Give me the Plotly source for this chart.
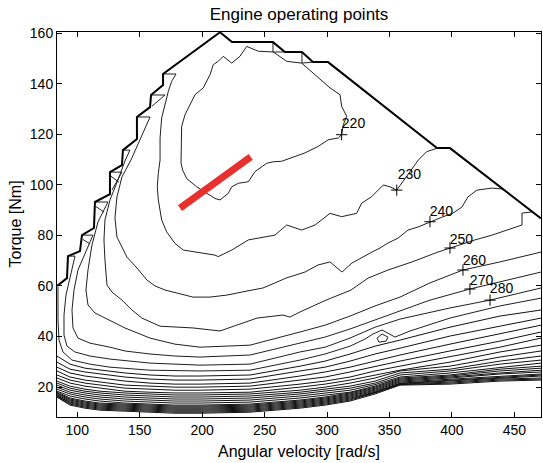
import plotly.graph_objects as go

# ---------------- data (speed in rad/s, torque in Nm) ----------------
# maximum torque boundary (stair-stepped grid edge)
bound_speed = [83.8, 91.8, 92.6, 102.2, 103.8, 113.4, 114.2, 126.2, 126.2, 135.8, 136.6, 147.8, 147.8,
               158.3, 159.1, 168.7, 168.7, 214.3, 223.9, 256.7, 266.3, 279.9, 288.7, 300.8, 388.0,
               398.4, 471.3]
bound_torque = [60.0, 63.1, 71.8, 73.8, 80.1, 82.9, 93.2, 96.3, 105.0, 107.8, 113.7, 118.1, 126.8,
                130.7, 135.5, 139.4, 143.8, 160.3, 156.4, 156.4, 152.5, 152.5, 148.5, 148.5, 114.5,
                114.5, 86.7]

# small edge artefacts near the boundary steps
edge_segments = [
    ([168.7, 179.1], [143.8, 143.8]),
    ([159.1, 170.3, 159.9], [135.5, 135.5, 131.1]),
    ([147.8, 158.3], [126.8, 126.8]),
    ([136.6, 142.2], [113.7, 113.7]),
    ([126.2, 135.8, 127.8], [105.0, 105.0, 97.9]),
    ([127.0, 133.4], [103.4, 101.0]),
    ([114.2, 124.6], [93.2, 93.2]),
    ([115.0, 121.4], [91.4, 89.2]),
    ([103.8, 112.6], [80.1, 80.1]),
    ([104.6, 110.2], [78.4, 76.6]),
    ([92.6, 98.2], [71.8, 71.8]),
    ([256.7, 256.7, 266.3], [156.4, 152.5, 152.5]),
    ([279.9, 279.9, 288.7], [152.5, 148.1, 148.5]),
]

# labelled contour levels (g/kWh)
c220_speed = [257.0, 267.7, 279.7, 290.4, 302.4, 310.4, 311.7, 315.7, 313.0, 311.7, 309.0, 301.0, 293.0,
              282.3, 271.7, 263.7, 257.0, 251.7, 242.3, 237.0, 229.0, 223.7, 220.9, 214.3, 210.3, 203.6,
              195.6, 187.6, 184.4, 183.1, 183.1, 183.6, 186.3, 190.3, 194.3, 200.9, 206.3, 208.9, 212.9,
              216.9, 223.7, 230.3, 235.7, 245.0, 257.0]
c220_torque = [152.5, 148.8, 148.1, 143.5, 138.3, 135.6, 131.0, 127.1, 123.7, 119.8, 118.5, 117.8, 115.2,
               112.6, 110.6, 109.3, 109.1, 108.5, 105.2, 101.2, 100.6, 99.2, 96.6, 94.0, 94.6, 96.6,
               99.2, 102.5, 105.8, 108.6, 118.5, 123.1, 127.7, 131.6, 135.6, 138.3, 143.5, 147.5, 148.8,
               150.8, 148.1, 150.8, 154.7, 152.8, 152.5]

c230_speed = [179.1, 175.6, 172.9, 170.3, 167.6, 166.3, 166.3, 164.9, 164.1, 164.9, 167.6, 171.6, 178.3,
              184.9, 200.9, 210.3, 212.9, 223.7, 237.0, 258.3, 267.7, 279.7, 290.4, 302.4, 311.7, 323.7,
              327.7, 335.7, 345.0, 350.4, 355.8, 359.8, 367.8, 373.1, 379.8, 387.8]
c230_torque = [143.8, 140.9, 136.9, 131.6, 126.4, 118.5, 109.8, 104.5, 99.2, 94.0, 86.1, 81.4, 76.8,
               74.2, 72.9, 72.2, 71.6, 74.2, 78.2, 80.1, 84.1, 82.1, 84.1, 88.7, 87.4, 88.7,
               92.7, 95.3, 99.9, 99.2, 97.9, 100.6, 105.8, 109.8, 113.1, 114.4]

c240_speed = [158.3, 150.2, 143.0, 135.8, 131.8, 130.2, 131.8, 135.8, 139.8, 147.8, 155.9, 162.3, 170.3,
              179.9, 192.7, 206.3, 219.9, 235.9, 248.7, 258.3, 267.1, 282.3, 292.8, 302.4, 312.0, 320.0,
              328.0, 336.0, 342.4, 348.8, 356.8, 364.8, 372.8, 382.4, 392.0, 400.8, 408.0, 412.8, 420.0,
              432.1, 440.9]
c240_torque = [126.8, 117.7, 109.8, 103.1, 95.2, 86.9, 79.3, 75.4, 71.4, 67.1, 62.3, 60.0, 58.4,
               57.2, 55.6, 55.6, 56.4, 58.0, 59.2, 61.2, 63.1, 65.5, 68.3, 69.5, 65.5, 69.1,
               71.4, 73.4, 75.0, 77.0, 78.9, 82.1, 83.3, 85.3, 87.2, 88.8, 91.2, 95.2, 97.9,
               98.7, 98.3]

c250_speed = [142.2, 138.2, 132.6, 126.2, 122.2, 121.4, 122.2, 123.8, 127.8, 135.8, 143.8, 151.8, 166.3,
              192.7, 214.3, 227.9, 243.9, 264.7, 270.3, 278.3, 299.2, 319.2, 332.8, 348.8, 368.0, 388.8,
              398.4, 418.4, 432.1, 444.9, 456.1, 456.1, 464.1]
c250_torque = [113.7, 109.4, 101.9, 94.0, 86.1, 78.2, 70.2, 60.4, 57.6, 54.4, 50.5, 47.3, 44.1,
               43.4, 42.2, 44.5, 47.3, 48.5, 47.7, 49.7, 54.4, 58.4, 63.1, 66.3, 69.5, 73.4,
               75.0, 78.2, 80.1, 82.1, 84.1, 88.8, 89.3]

c260_speed = [124.6, 116.6, 111.8, 108.6, 107.0, 108.6, 114.2, 126.2, 138.2, 158.3, 178.3, 198.3, 238.3,
              278.3, 298.4, 318.4, 338.4, 358.4, 382.4, 408.8, 438.4, 471.3]
c260_torque = [93.2, 85.3, 76.2, 66.3, 58.4, 52.5, 49.3, 46.5, 43.4, 39.4, 37.0, 35.8, 36.6,
               41.8, 44.5, 48.1, 52.1, 55.6, 61.2, 66.3, 69.5, 73.4]

c270_speed = [112.6, 106.2, 100.6, 97.4, 95.8, 96.6, 100.6, 110.2, 126.2, 138.2, 158.3, 178.3, 198.3,
              238.3, 278.3, 298.4, 318.4, 338.4, 358.4, 382.4, 414.4, 438.4, 471.3]
c270_torque = [80.1, 73.0, 66.3, 58.4, 50.5, 43.4, 39.4, 37.4, 35.8, 34.3, 33.1, 32.3, 31.9,
               32.7, 37.4, 39.8, 43.0, 46.5, 50.1, 54.4, 58.8, 61.5, 65.5]

c280_speed = [98.2, 94.2, 91.0, 89.4, 89.4, 91.8, 98.2, 110.2, 126.2, 158.3, 198.3, 238.3, 278.3,
              298.4, 318.4, 338.4, 358.4, 398.4, 430.5, 471.3]
c280_torque = [71.8, 63.5, 56.4, 48.5, 40.6, 36.2, 33.9, 32.3, 31.1, 29.5, 28.7, 29.1, 33.9,
               35.8, 39.4, 43.7, 46.9, 51.3, 54.4, 59.2]

c290_speed = [84.6, 84.6, 85.4, 88.6, 95.8, 110.2, 126.2, 158.3, 198.3, 238.3, 278.3, 298.4, 318.4,
              330.4, 336.8, 344.0, 354.4, 366.4, 398.4, 438.4, 471.3]
c290_torque = [59.6, 46.5, 38.6, 33.9, 30.7, 29.1, 27.9, 26.7, 26.4, 26.7, 30.7, 33.1, 36.2,
               39.0, 41.0, 42.6, 39.8, 42.2, 47.3, 52.1, 55.2]

islet_speed = [340.0, 344.0, 348.8, 347.2, 341.6, 340.0]
islet_torque = [39.4, 41.0, 39.8, 38.2, 37.8, 39.4]

# unlabelled low-load contour levels, read at common speed stations
station_speed = [83.8, 94.2, 106.2, 118.2, 138.2, 158.3, 178.3, 198.3, 238.3, 278.3, 298.4, 318.4,
                 338.4, 358.4, 398.4, 438.4, 471.3]
t300 = [32.3, 29.1, 27.5, 26.7, 25.6, 24.8, 24.4, 24.4, 24.8, 28.3, 30.3, 33.1, 36.2, 38.6, 43.7, 48.1, 50.5]
t310 = [29.9, 27.1, 26.0, 25.2, 24.0, 23.2, 22.8, 22.8, 23.2, 26.4, 27.9, 30.3, 33.1, 35.4, 40.2, 44.1, 47.3]
t320 = [27.9, 25.6, 24.4, 23.6, 22.4, 21.6, 21.2, 21.2, 21.6, 24.4, 26.0, 27.9, 30.3, 32.7, 37.0, 41.0, 44.5]
t330 = [26.4, 24.0, 22.8, 22.0, 20.8, 20.4, 20.0, 20.0, 20.4, 22.8, 24.0, 26.0, 28.3, 30.3, 34.3, 38.2, 41.8]
t340 = [24.8, 22.8, 21.6, 20.8, 19.6, 19.2, 18.8, 18.8, 19.2, 21.2, 22.4, 24.0, 26.4, 28.3, 31.9, 35.8, 39.4]
t350 = [23.6, 21.6, 20.4, 19.6, 18.4, 18.0, 17.7, 17.7, 18.0, 20.0, 21.2, 22.8, 24.8, 26.7, 29.9, 33.9, 36.6]
t360 = [22.4, 20.4, 19.2, 18.4, 17.7, 17.3, 16.9, 16.9, 17.3, 18.8, 20.0, 21.6, 23.6, 26.4, 28.3, 31.9, 34.3]
t370 = [21.6, 19.6, 18.4, 17.7, 16.9, 16.5, 16.1, 16.1, 16.5, 18.0, 19.2, 20.4, 22.4, 25.6, 27.1, 30.3, 32.3]
t380 = [20.8, 18.8, 17.7, 16.9, 16.1, 15.7, 15.3, 15.3, 15.7, 17.3, 18.4, 19.6, 21.6, 24.8, 26.4, 29.1, 30.7]
t390 = [20.0, 18.0, 16.9, 16.1, 15.3, 14.9, 14.5, 14.5, 14.9, 16.5, 17.7, 18.8, 21.0, 24.0, 25.6, 27.9, 29.5]
t400 = [19.2, 17.3, 16.1, 15.3, 14.5, 14.1, 13.7, 13.7, 14.1, 15.7, 16.9, 18.0, 20.4, 23.6, 24.8, 27.1, 28.3]
t410 = [18.4, 16.5, 15.3, 14.5, 13.7, 13.3, 12.9, 12.9, 13.3, 14.9, 16.1, 17.7, 20.0, 23.2, 24.4, 26.4, 27.5]
t420 = [18.0, 15.7, 14.5, 13.7, 13.3, 12.9, 12.5, 12.5, 12.9, 14.5, 15.7, 17.3, 19.6, 22.8, 24.0, 25.6, 26.7]
t430 = [17.7, 15.3, 14.1, 13.3, 12.9, 12.5, 12.1, 12.1, 12.5, 14.1, 15.3, 16.9, 19.2, 22.4, 23.6, 25.2, 26.0]
t440 = [17.3, 14.9, 13.7, 12.9, 12.5, 12.1, 11.7, 11.7, 12.1, 13.7, 14.9, 16.5, 18.8, 22.0, 23.2, 24.4, 25.2]
t450 = [16.9, 14.5, 13.3, 12.5, 12.1, 11.7, 11.3, 11.3, 11.7, 13.3, 14.5, 16.1, 18.4, 21.6, 22.8, 24.0, 24.8]
t460 = [16.5, 14.1, 12.9, 12.1, 11.7, 11.3, 10.9, 10.9, 11.3, 12.9, 14.1, 15.7, 18.0, 21.4, 22.4, 23.6, 24.4]
t470 = [16.5, 13.7, 12.5, 11.7, 11.3, 10.9, 10.5, 10.5, 10.9, 12.5, 13.7, 15.3, 17.9, 21.2, 22.0, 23.2, 23.6]
t480 = [16.1, 13.3, 12.1, 11.3, 10.9, 10.5, 10.1, 10.1, 10.5, 12.1, 13.3, 14.9, 17.7, 21.0, 21.6, 22.8, 23.2]
t490 = [16.1, 12.9, 11.7, 10.9, 10.5, 10.1, 9.7, 9.7, 10.1, 11.7, 12.9, 14.5, 17.3, 20.8, 21.2, 22.4, 22.8]

# contour labels
label_text = ["220", "230", "240", "250", "260", "270", "280"]
label_mark_speed = [311.7, 355.8, 382.4, 398.4, 408.8, 414.4, 430.5]
label_mark_torque = [119.8, 97.9, 85.4, 75.0, 66.3, 58.8, 54.4]
label_text_speed = [321.2, 366.0, 391.6, 407.6, 418.0, 423.7, 439.7]
label_text_torque = [124.0, 103.5, 89.0, 77.8, 69.5, 61.9, 58.6]

# engine operating points
op_speed = [182.3, 238.9]
op_torque = [90.8, 111.0]

# ---------------- figure ----------------
fig = go.Figure()
LINE = "#202020"

def add_line(xs, ys, color=LINE, width=1):
    fig.add_trace(go.Scatter(x=xs, y=ys, mode="lines", line=dict(color=color, width=width),
                             hoverinfo="skip", showlegend=False))

for xs, ys in [(c220_speed, c220_torque), (c230_speed, c230_torque), (c240_speed, c240_torque),
               (c250_speed, c250_torque), (c260_speed, c260_torque), (c270_speed, c270_torque),
               (c280_speed, c280_torque), (c290_speed, c290_torque), (islet_speed, islet_torque)]:
    add_line(xs, ys)

for ys in [t300, t310, t320, t330, t340, t350, t360, t370, t380, t390, t400,
           t410, t420, t430, t440, t450, t460, t470, t480, t490]:
    add_line(station_speed, ys, color="#111111")

for xs, ys in edge_segments:
    add_line(xs, ys)

add_line(bound_speed, bound_torque, color="black", width=2)

fig.add_trace(go.Scatter(x=label_mark_speed, y=label_mark_torque, mode="markers",
                         marker=dict(symbol="cross-thin", size=8, line=dict(color="black", width=1)),
                         hoverinfo="skip", showlegend=False))
fig.add_trace(go.Scatter(x=label_text_speed, y=label_text_torque, mode="text", text=label_text,
                         textfont=dict(family="Liberation Sans, Arial, sans-serif", size=14, color="black"),
                         textposition="middle center", hoverinfo="skip", showlegend=False))

fig.add_trace(go.Scatter(x=op_speed, y=op_torque, mode="lines",
                         line=dict(color="#e8302e", width=7), hoverinfo="skip", showlegend=False))

axis_common = dict(ticks="inside", ticklen=5, tickwidth=1, tickcolor="black", showline=True,
                   linecolor="black", linewidth=1, mirror="ticks", showgrid=False, zeroline=False,
                   tickfont=dict(size=14, color="black"))

fig.update_layout(
    width=543, height=463,
    margin=dict(l=57, r=2, t=32, b=46),
    paper_bgcolor="white", plot_bgcolor="white",
    font=dict(family="Liberation Sans, Arial, sans-serif", color="black"),
    showlegend=False,
    title=dict(text="Engine operating points", x=0.5, xref="paper", xanchor="center",
               y=1 - 14 / 463, yref="container", yanchor="middle", font=dict(size=17)),
    xaxis=dict(range=[83.8, 471.3], tickvals=[100, 150, 200, 250, 300, 350, 400, 450], **axis_common),
    yaxis=dict(range=[8.2, 160.4], tickvals=[20, 40, 60, 80, 100, 120, 140, 160], **axis_common),
    annotations=[
        dict(text="Angular velocity [rad/s]", x=0.5, y=0, xref="paper", yref="paper",
             xanchor="center", yanchor="middle", yshift=-34, showarrow=False, font=dict(size=16)),
        dict(text="Torque [Nm]", x=0, y=0.5, xref="paper", yref="paper", textangle=-90,
             xanchor="center", yanchor="middle", xshift=-42, showarrow=False, font=dict(size=16)),
    ],
)

fig.write_html("out.html")
